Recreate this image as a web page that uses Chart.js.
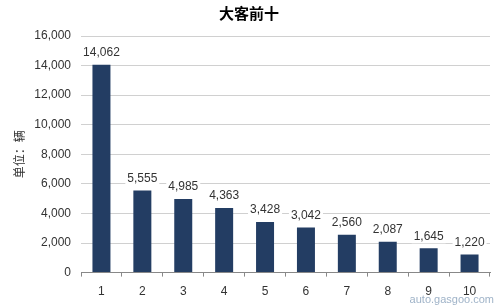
<!DOCTYPE html>
<html>
<head>
<meta charset="utf-8">
<script src="https://cdn.jsdelivr.net/npm/chart.js@4"></script>
<style>
  body { margin: 0; background: #fff; }
  #wrap { position: relative; width: 500px; height: 307px; }
  #mark { position: absolute; right: 6px; bottom: 2px; font: 11px Arial, sans-serif; color: #9fb3c8; }
</style>
</head>
<body>
<div id="wrap">
  <canvas id="top10" width="500" height="307"></canvas>
  <div id="mark">auto.gasgoo.com</div>
</div>
<script>
const categories = ['1', '2', '3', '4', '5', '6', '7', '8', '9', '10'];
const volumes = [14062, 5555, 4985, 4363, 3428, 3042, 2560, 2087, 1645, 1220];
const yTicks = [0, 2000, 4000, 6000, 8000, 10000, 12000, 14000, 16000];

// value labels above bars, on white boxes so grid lines break behind them
const barLabels = {
    id: 'barLabels',
    afterDatasetsDraw(chart) {
        const ctx = chart.ctx;
        const meta = chart.getDatasetMeta(0);
        ctx.save();
        ctx.font = '12px Arial, "Liberation Sans", sans-serif';
        ctx.textAlign = 'center';
        ctx.textBaseline = 'bottom';
        meta.data.forEach((bar, i) => {
            const txt = volumes[i].toLocaleString('en-US');
            const w = ctx.measureText(txt).width;
            const y = bar.y - 6;
            ctx.fillStyle = '#fff';
            ctx.fillRect(bar.x - w / 2 - 2, y - 13, w + 4, 14);
            ctx.fillStyle = '#333';
            ctx.fillText(txt, bar.x, y);
        });
        ctx.restore();
    }
};

new Chart(document.getElementById('top10'), {
    type: 'bar',
    data: {
        labels: categories,
        datasets: [{
            data: volumes,
            backgroundColor: '#233d63',
            barPercentage: 0.44,
            categoryPercentage: 1.0
        }]
    },
    options: {
        responsive: false,
        animation: false,
        layout: { padding: { top: 4, right: 10, left: 8, bottom: 0 } },
        plugins: {
            legend: { display: false },
            tooltip: { enabled: false },
            title: {
                display: true,
                text: '大客前十',
                color: '#000',
                font: { size: 15, weight: 'bold', family: '"Noto Sans CJK SC", sans-serif' },
                padding: { top: 0, bottom: 14 }
            }
        },
        scales: {
            x: {
                grid: {
                    display: true,
                    drawOnChartArea: false,
                    offset: true,
                    tickLength: 4,
                    color: '#888'
                },
                border: { color: '#888' },
                ticks: { color: '#333', font: { size: 12, family: 'Arial, sans-serif' }, padding: 8 }
            },
            y: {
                min: 0,
                max: 16000,
                afterBuildTicks(axis) { axis.ticks = yTicks.map(v => ({ value: v })); },
                afterFit(axis) { axis.width = 73; },
                grid: { color: '#d0d0d0', drawTicks: false },
                border: { display: false },
                ticks: {
                    color: '#333',
                    padding: 10,
                    font: { size: 12, family: 'Arial, sans-serif' },
                    callback: v => v.toLocaleString('en-US')
                },
                title: {
                    display: true,
                    text: '单位：辆',
                    color: '#333',
                    font: { size: 12, family: '"Noto Sans CJK SC", sans-serif' },
                    padding: { bottom: 2 }
                }
            }
        }
    },
    plugins: [barLabels]
});
</script>
</body>
</html>
